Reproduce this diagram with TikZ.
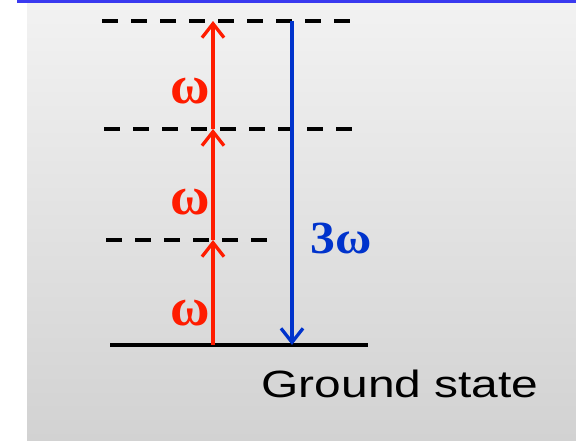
\documentclass[tikz,border=0pt]{standalone}
\usepackage{fontspec}
\usepackage{graphicx}
\setmainfont{Liberation Serif}
\newfontfamily\groundfont{Liberation Sans}
\usetikzlibrary{positioning,arrows.meta}

\definecolor{photred}{RGB}{255,28,0}
\definecolor{emitblue}{RGB}{0,51,204}
\definecolor{frameblue}{RGB}{58,58,240}
\definecolor{bgtop}{RGB}{242,242,242}
\definecolor{bgbot}{RGB}{210,210,210}

\begin{document}
\begin{tikzpicture}[x=1pt,y=-1pt,
    level/.style={line width=3.3pt, dash pattern=on 16pt off 13pt},
    photon/.style={line width=3.3pt, photred, -{Straight Barb[length=14pt,width=22pt]}},
    omega/.style={text=photred, font=\fontsize{54}{54}\selectfont\bfseries, inner sep=0pt}]
\useasboundingbox (0,0) rectangle (576,440);
% backdrop
\shade[top color=bgtop, bottom color=bgbot] (27,3) rectangle (576,440);
\draw[line width=3pt, frameblue] (17,1.5) -- (576,1.5);

% levels
\draw[level] (102,21) -- (351,21);
\draw[level] (104,129) -- (355,129);
\draw[level] (106,240) -- (270,240);
\draw[line width=3.3pt] (110,345) -- (368,345);

\coordinate (g) at (213,345);
\coordinate (v1) at (213,240);
\coordinate (v2) at (213,129);
\coordinate (v3) at (213,21);
\coordinate (btop) at (292,21);
\coordinate (bgnd) at (292,345);

% absorption
\draw[photon] (g) -- (v1);
\draw[photon] (v1) -- (v2);
\draw[photon] (v2) -- (v3);
\node[omega] (w1) at (190,313) {ω};
\node[omega] (w2) at (190,202) {ω};
\node[omega] (w3) at (190,91) {ω};

% emission
\draw[line width=3.3pt, emitblue, -{Straight Barb[length=14pt,width=22pt]}] (btop) -- (bgnd);
\node[text=emitblue, font=\fontsize{46}{46}\selectfont\bfseries, inner sep=0pt, anchor=west] (w3x) at (310,238) {\scalebox{1.08}[1]{3ω}};

\node[font=\groundfont\fontsize{38}{38}\selectfont, inner sep=0pt] (gs) at (400,384) {\scalebox{1.26}[1]{Ground state}};
\end{tikzpicture}
\end{document}
